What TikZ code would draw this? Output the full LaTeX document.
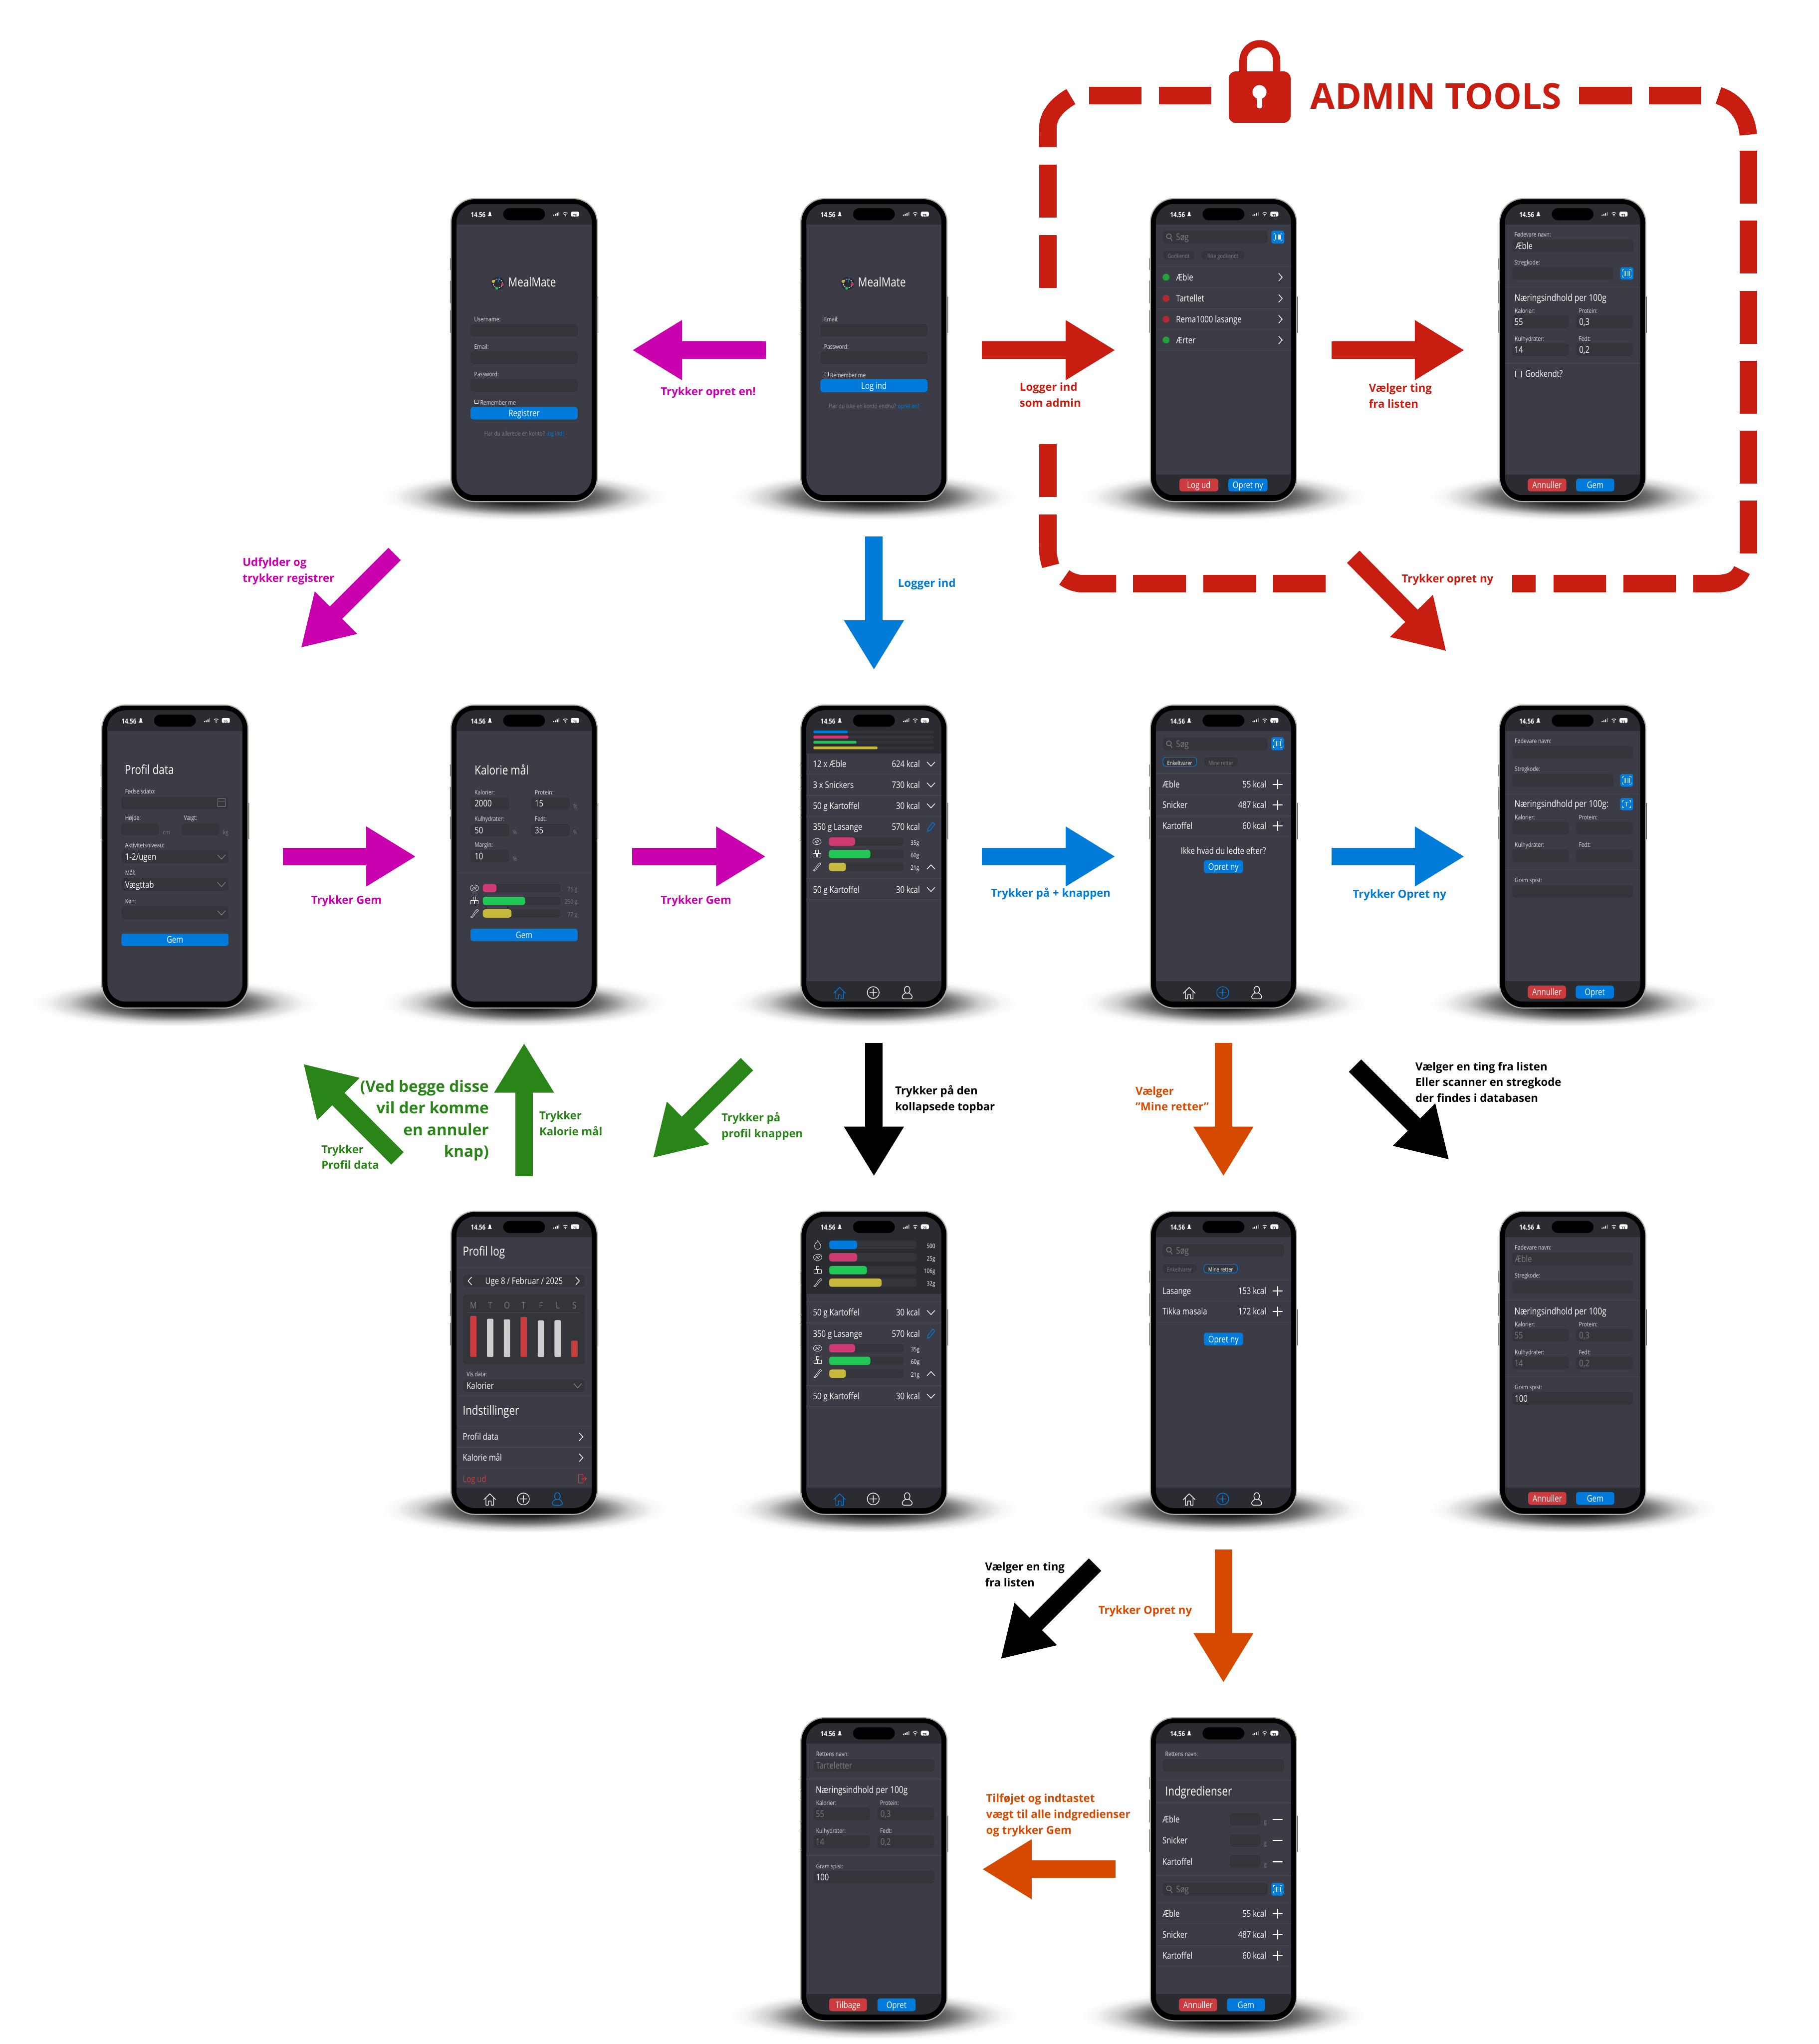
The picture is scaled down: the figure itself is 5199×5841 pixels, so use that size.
\documentclass[tikz,border=0pt]{standalone}
\usepackage{fontspec}
\setmainfont{Open Sans}
\newfontfamily\phonefont[FakeStretch=0.82]{Open Sans}
\usetikzlibrary{arrows.meta}

\definecolor{screenbg}{HTML}{3B3C46}
\definecolor{darkbar}{HTML}{2B2C32}
\definecolor{fieldbg}{HTML}{34353B}
\definecolor{divline}{HTML}{47484F}
\definecolor{btnblue}{HTML}{007BDB}
\definecolor{btnred}{HTML}{CC3B3E}
\definecolor{labgray}{HTML}{DEDEE0}
\definecolor{dimtxt}{HTML}{7C7D83}
\definecolor{metal}{HTML}{B4AFA3}
\definecolor{barpink}{HTML}{CF3A72}
\definecolor{bargreen}{HTML}{22C855}
\definecolor{baryellow}{HTML}{C6B93E}
\definecolor{dotgreen}{HTML}{23A23A}
\definecolor{dotred}{HTML}{B22A30}
\definecolor{barwhite}{HTML}{CFCFCF}
\definecolor{flowmag}{HTML}{C800AD}
\definecolor{flowblue}{HTML}{007BD8}
\definecolor{flowred}{HTML}{C81E12}
\definecolor{flowgreen}{HTML}{2A8519}
\definecolor{floworange}{HTML}{D64A00}

\pgfdeclareradialshading{phoneshadow}{\pgfpoint{0bp}{0bp}}{%
  color(0bp)=(black!92); color(7bp)=(black!88); color(13.5bp)=(black!55);
  color(18.5bp)=(black!18); color(22.5bp)=(black!3); color(25bp)=(white); color(50bp)=(white)}

\newcounter{txtno}
\newcommand{\ptx}[4][]{\stepcounter{txtno}\node[ptxt,#1] (txt\arabic{txtno}) at (#2,#3) {#4};}
\newcommand{\inp}[4]{\fill[fieldbg,rounded corners=.08cm] (#1,#2) rectangle (#3,#4);}
\newcommand{\divi}[1]{\draw[divline,line width=.5pt] (-193,#1) -- (193,#1);}
\newcommand{\btn}[6]{\fill[#1,rounded corners=.07cm] (#2,#3) rectangle (#4,#5);
  \ptx[ctr]{{(#2+#4)/2}}{{(#3+#5)/2}}{#6}}
\newcommand{\chipon}[5]{\draw[btnblue,fill=fieldbg,line width=.5pt,rounded corners=.08cm] (#1,#2) rectangle (#3,#4);
  \ptx[ctr,mini]{{(#1+#3)/2}}{{(#2+#4)/2}}{#5}}
\newcommand{\chipoff}[5]{\fill[fieldbg,rounded corners=.08cm] (#1,#2) rectangle (#3,#4);
  \ptx[ctr,mini,dim]{{(#1+#3)/2}}{{(#2+#4)/2}}{#5}}
\newcommand{\chevd}[3][white]{\draw[ic,draw=#1,shift={(#2,#3)}] (-11,-6) -- (0,6) -- (11,-6);}
\newcommand{\chevu}[2]{\draw[ic,shift={(#1,#2)}] (-11,6) -- (0,-6) -- (11,6);}
\newcommand{\chevr}[2]{\draw[ic,shift={(#1,#2)}] (-5,-11) -- (5,0) -- (-5,11);}
\newcommand{\chevl}[2]{\draw[ic,shift={(#1,#2)}] (5,-11) -- (-5,0) -- (5,11);}
\newcommand{\plusic}[2]{\draw[ic,line width=.85pt,shift={(#1,#2)}] (-13,0) -- (13,0) (0,-13) -- (0,13);}
\newcommand{\minusic}[2]{\draw[ic,line width=.85pt,shift={(#1,#2)}] (-13,0) -- (13,0);}
\newcommand{\lens}[2]{\draw[ic,draw=dimtxt,shift={(#1,#2)}] (0,-2) circle (.07cm) (5,4) -- (9,11);}
\newcommand{\pencil}[2]{\draw[ic,draw=btnblue,shift={(#1,#2)}] (-10,13) -- (-9,5) -- (5,-13) -- (11,-8) -- (-3,10) -- cycle;}
\newcommand{\scanbtn}[4]{\fill[btnblue,rounded corners=.06cm] (#1,#2) rectangle (#3,#4);
  \begin{scope}[shift={({(#1+#3)/2},{(#2+#4)/2})}]
    \draw[white,line width=.3pt] (-12,-6) -- (-12,-11) -- (-8,-11) (8,-11) -- (12,-11) -- (12,-6) (12,6) -- (12,11) -- (8,11) (-8,11) -- (-12,11) -- (-12,6);
    \foreach \bx in {-7,-3,1,4,8}{\draw[white,line width=.4pt] (\bx,-7) -- (\bx,7);}
  \end{scope}}
\newcommand{\ocrbtn}[4]{\fill[btnblue,rounded corners=.06cm] (#1,#2) rectangle (#3,#4);
  \begin{scope}[shift={({(#1+#3)/2},{(#2+#4)/2})}]
    \draw[white,line width=.4pt] (-12,-5) -- (-12,-10) -- (-8,-10) (8,-10) -- (12,-10) -- (12,-5) (12,5) -- (12,10) -- (8,10) (-8,10) -- (-12,10) -- (-12,5);
    \draw[white,line width=.5pt] (-5,-6) -- (5,-6) (0,-6) -- (0,7);
  \end{scope}}
\newcommand{\mbar}[5]{\fill[fieldbg,rounded corners=.07cm] (#2,{#1-12}) rectangle (#3,{#1+12});
  \fill[#5,rounded corners=.07cm] (#2,{#1-12}) rectangle (#4,{#1+12});}
\newcommand{\icmeat}[2]{\begin{scope}[shift={(#1,#2)}]\draw[ic,line width=.3pt] (0,0) ellipse (.12cm and .09cm) (-6,4) -- (-2,-4) (-2,4) -- (2,-4) (2,4) -- (6,-4);\end{scope}}
\newcommand{\icsugar}[2]{\begin{scope}[shift={(#1,#2)}]\draw[ic,line width=.3pt] (-4,-12) rectangle (4,-3) (-11,-2) rectangle (-1,8) (1,-2) rectangle (11,8);\end{scope}}
\newcommand{\icbacon}[2]{\begin{scope}[shift={(#1,#2)}]\draw[ic,line width=.3pt] (-11,10) .. controls (-4,8) and (0,-8) .. (9,-12) (-7,12) .. controls (0,8) and (3,-4) .. (12,-8) (-11,10) -- (-7,12) (9,-12) -- (12,-8);\end{scope}}
\newcommand{\icflame}[2]{\draw[ic,line width=.3pt,shift={(#1,#2)}] (0,-13) .. controls (2,-6) and (9,-4) .. (9,4) .. controls (9,10) and (4,13) .. (0,13) .. controls (-5,13) and (-9,9) .. (-9,3) .. controls (-9,-1) and (-6,-3) .. (-5,-6) .. controls (-3,-4) and (-2,-8) .. (0,-13) -- cycle;}
\newcommand{\listrow}[3]{\ptx{-175}{#1}{#2}\ptx[rt]{123}{#1}{#3}\plusic{155}{#1}}
\newcommand{\logrow}[3]{\ptx{-175}{#1}{#2}\ptx[rt]{132}{#1}{#3}\chevd{163}{#1}}
\newcommand{\selectbox}[3]{\inp{-153}{#1}{153}{#2}\ptx{-143}{{(#1+#2)/2}}{#3}\chevd[dimtxt]{133}{{(#1+#2)/2}}}
\newcommand{\nutri}[6]{\ptx[sub]{-167}{#1}{Næringsindhold per 100g#6}
  \ptx[lab]{-166}{#1+35}{Kalorier:}\ptx[lab]{17}{#1+35}{Protein:}
  \inp{-173}{#1+51}{-11}{#1+88}\inp{10}{#1+51}{172}{#1+88}
  \ptx[lab]{-166}{#1+115}{Kulhydrater:}\ptx[lab]{17}{#1+115}{Fedt:}
  \inp{-173}{#1+131}{-11}{#1+168}\inp{10}{#1+131}{172}{#1+168}
  \ptx[nutval]{-167}{#1+70}{#2}\ptx[nutval]{18}{#1+70}{#3}
  \ptx[nutval]{-167}{#1+150}{#4}\ptx[nutval]{18}{#1+150}{#5}}
\newcommand{\navbar}[3]{\fill[darkbar] (-193,795) rectangle (193,854);
  \begin{scope}[shift={(-98,828)}]\draw[ic,draw=#1] (-17,2) -- (0,-15) -- (17,2) (-11,-3) -- (-11,18) -- (-4,18) -- (-4,6) -- (4,6) -- (4,18) -- (11,18) -- (11,-3);\end{scope}
  \begin{scope}[shift={(-2,828)}]\draw[ic,draw=#2] (0,0) circle (.17cm) (-10,0) -- (10,0) (0,-10) -- (0,10);\end{scope}
  \begin{scope}[shift={(95,828)}]\draw[ic,draw=#3] (0,-8) ellipse (.08cm and .1cm) (-5,1) .. controls (-17,8) and (-17,18) .. (-8,18) -- (8,18) .. controls (17,18) and (17,8) .. (5,1);\end{scope}}
\newcommand{\mealogo}[2]{\begin{scope}[shift={(#1,#2)}]
    \fill[darkbar] (0,0) circle (.19cm);
    \draw[white,line width=.4pt,dash pattern=on 1.2pt off .8pt] (0,0) circle (.13cm);
    \fill[baryellow] (-13,-6) circle (.045cm); \fill[barpink] (13,3) circle (.04cm); \fill[bargreen] (-3,14) circle (.04cm);
    \draw[btnblue,line width=.6pt] (1,-3) -- (4,-17);
  \end{scope}}
\newcommand{\phone}[4]{\begin{scope}[shift={(#2,#3)},yscale=.992]
    \begin{scope}\clip (-420,785) rectangle (420,923);
      \shade[shading=phoneshadow] (0,858) ellipse (4.1cm and .72cm);\end{scope}
    \fill[black!70] (-212,171) rectangle (-205,205) (-212,236) rectangle (-205,301) (-212,321) rectangle (-205,386) (205,282) rectangle (212,386);
    \node[phonebody] (#1) at (0,436) {};
    \begin{scope}\clip[rounded corners=.52cm] (-193,15) rectangle (193,854);
      \fill[screenbg] (-193,15) rectangle (193,854);
      \fill[darkbar] (-193,15) rectangle (193,74);
      #4
    \end{scope}
    \fill[black,rounded corners=.18cm] (-60,27) rectangle (60,62);
    \ptx[stat]{-153}{44}{14.56}
    \fill[white] (-104,50) -- (-101,46) -- (-101,41) .. controls (-100,36) and (-96,36) .. (-95,41) -- (-95,46) -- (-92,50) -- cycle;
    \fill[white] (83,49) rectangle (86,46) (88,49) rectangle (91,44) (93,49) rectangle (96,41);
    \fill[dimtxt] (98,49) rectangle (101,38);
    \draw[white,line width=.5pt] (124,42) arc[start angle=45,end angle=135,radius=.085cm] (121,46) arc[start angle=45,end angle=135,radius=.045cm];
    \fill[white] (118,49) circle (.018cm);
    \fill[white,rounded corners=.04cm] (134,37) rectangle (157,51);
    \ptx[ctr,stat,text=darkbar]{145}{44}{\fontsize{3.4}{4}\selectfont 73}
  \end{scope}}

\begin{document}
\begin{tikzpicture}[
  x=0.1mm, y=-0.1mm,
  phonebody/.style={rectangle, minimum width=4.18cm, minimum height=8.66cm, inner sep=0pt, outer sep=0pt,
                    rounded corners=.68cm, fill=black, draw=metal, line width=.9pt},
  ptxt/.style={anchor=mid west, inner sep=0pt, text=white, font=\phonefont\fontsize{7.4}{9}\selectfont},
  lab/.style={text=labgray, font=\phonefont\fontsize{5.1}{6}\selectfont},
  head/.style={font=\phonefont\fontsize{10.2}{12}\selectfont},
  sub/.style={font=\phonefont\fontsize{7.7}{9}\selectfont},
  mini/.style={font=\phonefont\fontsize{4.7}{6}\selectfont},
  small/.style={font=\phonefont\fontsize{5}{6}\selectfont},
  stat/.style={font=\phonefont\bfseries\fontsize{5.7}{6}\selectfont},
  ctr/.style={anchor=mid},
  rt/.style={anchor=mid east},
  dim/.style={text=dimtxt},
  nutval/.style={},
  ic/.style={draw=white, line width=.55pt, line join=round, line cap=round},
  flow/.style={line width=.5cm, -{Triangle[length=1.42cm,width=1.61cm]}},
  note/.style={anchor=north west, inner sep=0pt, align=left, font=\bfseries\fontsize{9}{12.9}\selectfont},
  adminline/.style={flowred, line width=.5cm}
]
\useasboundingbox (0,0) rectangle (5199,5841);

% first row
\phone{register}{1498}{568}{
  \mealogo{-75}{244}\ptx[head]{-46}{244}{MealMate}
  \ptx[lab]{-143}{344}{Username:}\inp{-153}{361}{153}{397}
  \ptx[lab]{-143}{424}{Email:}\inp{-153}{440}{153}{476}
  \ptx[lab]{-143}{503}{Password:}\inp{-153}{520}{153}{556}
  \draw[white,line width=.3pt] (-141,579) rectangle (-131,590);\ptx[lab]{-126}{585}{Remember me}
  \btn{btnblue}{-153}{600}{153}{636}{Registrer}
  \ptx[ctr,small,dim]{0}{674}{Har du allerede en konto? \textcolor{btnblue}{log ind!}}
}
\phone{login}{2498}{568}{
  \mealogo{-75}{244}\ptx[head]{-46}{244}{MealMate}
  \ptx[lab]{-143}{344}{Email:}\inp{-153}{361}{153}{397}
  \ptx[lab]{-143}{424}{Password:}\inp{-153}{440}{153}{476}
  \draw[white,line width=.3pt] (-141,499) rectangle (-131,510);\ptx[lab]{-126}{505}{Remember me}
  \btn{btnblue}{-153}{520}{153}{557}{Log ind}
  \ptx[ctr,small,dim]{0}{595}{Har du ikke en konto endnu? \textcolor{btnblue}{opret en!}}
}
\phone{adminlist}{3497}{568}{
  \inp{-173}{92}{126}{129}\lens{-156}{110}\ptx[dim]{-136}{110}{Søg}\scanbtn{137}{92}{174}{129}
  \chipoff{-173}{150}{-83}{175}{Godkendt}\chipoff{-63}{150}{60}{175}{Ikke godkendt}
  \divi{196}\divi{256}\divi{317}\divi{377}\divi{437}
  \fill[dotgreen] (-164,226) circle (.1cm);\ptx{-136}{226}{Æble}\chevr{163}{226}
  \fill[dotred] (-164,287) circle (.1cm);\ptx{-136}{287}{Tartellet}\chevr{163}{287}
  \fill[dotred] (-164,347) circle (.1cm);\ptx{-136}{347}{Rema1000 lasange}\chevr{163}{347}
  \fill[dotgreen] (-164,407) circle (.1cm);\ptx{-136}{407}{Ærter}\chevr{163}{407}
  \fill[darkbar] (-193,795) rectangle (193,854);
  \btn{btnred}{-126}{806}{-15}{843}{Log ud}\btn{btnblue}{14}{806}{126}{843}{Opret ny}
}
\phone{adminedit}{4495}{568}{
  \ptx[lab]{-167}{100}{Fødevare navn:}\inp{-173}{117}{174}{153}\ptx{-164}{136}{Æble}
  \ptx[lab]{-167}{181}{Stregkode:}\inp{-173}{197}{116}{233}\scanbtn{136}{197}{174}{233}
  \divi{255}
  \nutri{285}{55}{0,3}{14}{0,2}{}
  \divi{474}
  \draw[white,line width=.4pt] (-164,496) rectangle (-146,513);\ptx{-136}{504}{Godkendt?}
  \fill[darkbar] (-193,795) rectangle (193,854);
  \btn{btnred}{-128}{806}{-18}{843}{Annuller}\btn{btnblue}{10}{806}{119}{843}{Gem}
}

% second row
\phone{profiledata}{500}{2015}{
  \ptx[head]{-144}{189}{Profil data}
  \ptx[lab]{-143}{246}{Fødselsdato:}\inp{-153}{264}{153}{300}
  \draw[dimtxt,line width=.3pt] (122,270) rectangle (144,292) (122,276) -- (144,276);
  \ptx[lab]{-143}{322}{Højde:}\ptx[lab]{25}{322}{Vægt:}
  \inp{-154}{340}{-46}{375}\inp{19}{340}{127}{375}
  \ptx[small,dim]{-35}{363}{cm}\ptx[small,dim]{137}{363}{kg}
  \ptx[lab]{-143}{401}{Aktivitetsniveau:}\selectbox{419}{456}{1-2/ugen}
  \ptx[lab]{-143}{480}{Mål:}\selectbox{499}{535}{Vægttab}
  \ptx[lab]{-143}{562}{Køn:}\selectbox{580}{617}{}
  \btn{btnblue}{-153}{658}{153}{694}{Gem}
}
\phone{kaloriemaal}{1498}{2015}{
  \ptx[head]{-142}{191}{Kalorie mål}
  \ptx[lab]{-142}{248}{Kalorier:}\ptx[lab]{30}{248}{Protein:}
  \inp{-153}{266}{-43}{302}\inp{20}{266}{130}{302}
  \ptx{-142}{283}{2000}\ptx{30}{283}{15}\ptx[small,dim]{140}{289}{\%}
  \ptx[lab]{-142}{324}{Kulhydrater:}\ptx[lab]{30}{324}{Fedt:}
  \inp{-153}{342}{-43}{378}\inp{20}{342}{130}{378}
  \ptx{-142}{360}{50}\ptx{30}{360}{35}\ptx[small,dim]{-33}{364}{\%}\ptx[small,dim]{140}{364}{\%}
  \ptx[lab]{-142}{400}{Margin:}\inp{-153}{417}{-43}{453}\ptx{-142}{435}{10}\ptx[small,dim]{-33}{440}{\%}
  \divi{484}
  \icmeat{-142}{527}\mbar{527}{-118}{104}{-79}{barpink}\ptx[rt,small,dim]{153}{527}{75 g}
  \icsugar{-142}{564}\mbar{564}{-118}{104}{3}{bargreen}\ptx[rt,small,dim]{153}{564}{250 g}
  \icbacon{-142}{600}\mbar{600}{-118}{104}{-36}{baryellow}\ptx[rt,small,dim]{153}{600}{77 g}
  \btn{btnblue}{-153}{644}{153}{680}{Gem}
}
\phone{home}{2498}{2015}{
  \fill[darkbar] (-193,74) rectangle (193,139);
  \foreach \by/\bend/\bcol in {77/-75/btnblue,92/-73/barpink,107/-50/bargreen,123/10/baryellow}{
    \fill[fieldbg,rounded corners=.03cm] (-173,\by-4) rectangle (171,\by+4);
    \fill[\bcol,rounded corners=.03cm] (-173,\by-4) rectangle (\bend,\by+4);}
  \logrow{170}{12 x Æble}{624 kcal}\divi{199}
  \logrow{230}{3 x Snickers}{730 kcal}\divi{260}
  \logrow{290}{50 g Kartoffel}{30 kcal}\divi{320}
  \ptx{-175}{351}{350 g Lasange}\ptx[rt]{132}{351}{570 kcal}\pencil{163}{351}
  \icmeat{-163}{393}\mbar{393}{-129}{85}{-54}{barpink}\ptx[ctr,small]{117}{393}{35g}
  \icsugar{-163}{429}\mbar{429}{-129}{85}{-10}{bargreen}\ptx[ctr,small]{117}{429}{60g}
  \icbacon{-163}{466}\mbar{466}{-129}{85}{-80}{baryellow}\ptx[ctr,small]{117}{466}{21g}\chevu{163}{466}
  \divi{500}\logrow{531}{50 g Kartoffel}{30 kcal}\divi{560}
  \navbar{btnblue}{white}{white}
}
\phone{addfood}{3497}{2015}{
  \inp{-173}{94}{126}{130}\lens{-156}{112}\ptx[dim]{-136}{112}{Søg}\scanbtn{137}{92}{172}{130}
  \chipon{-173}{150}{-77}{176}{Enkeltvarer}\chipoff{-55}{150}{41}{176}{Mine retter}
  \divi{197}\listrow{228}{Æble}{55 kcal}\divi{258}
  \listrow{288}{Snicker}{487 kcal}\divi{319}
  \listrow{348}{Kartoffel}{60 kcal}\divi{379}
  \ptx[ctr]{0}{419}{Ikke hvad du ledte efter?}
  \btn{btnblue}{-56}{447}{56}{484}{Opret ny}
  \navbar{white}{btnblue}{white}
}
\phone{newfood}{4495}{2015}{
  \ptx[lab]{-166}{100}{Fødevare navn:}\inp{-173}{118}{173}{154}
  \ptx[lab]{-166}{181}{Stregkode:}\inp{-173}{198}{117}{235}\scanbtn{136}{198}{173}{235}
  \divi{256}
  \nutri{285}{}{}{}{}{:}\ocrbtn{136}{267}{173}{303}
  \divi{475}
  \ptx[lab]{-166}{501}{Gram spist:}\inp{-173}{519}{173}{555}
  \fill[darkbar] (-193,795) rectangle (193,854);
  \btn{btnred}{-128}{808}{-19}{845}{Annuller}\btn{btnblue}{9}{808}{118}{845}{Opret}
}

% third row
\phone{profilelog}{1498}{3462}{
  \ptx[head]{-176}{118}{Profil log}\divi{161}
  \inp{-174}{182}{173}{218}\chevl{-155}{200}\chevr{153}{200}\ptx[ctr]{0}{200}{Uge 8 / Februar / 2025}
  \inp{-174}{239}{173}{440}
  \foreach \cx/\cday in {-145/M,-97/T,-49/O,-1/T,48/F,96/L,144/S}{\ptx[ctr,dim]{\cx}{271}{\cday}}
  \draw[divline,line width=.3pt] (-160,291) -- (160,291);
  \foreach \cx/\ctop/\ccol in {-145/301/btnred,-97/309/barwhite,-49/311/barwhite,-1/304/btnred,48/314/barwhite,96/313/barwhite,144/372/btnred}{
    \fill[\ccol,rounded corners=.03cm] (\cx-9,\ctop) rectangle (\cx+9,419);}
  \ptx[lab]{-165}{466}{Vis data:}\inp{-174}{484}{173}{520}\ptx{-165}{502}{Kalorier}\chevd[dimtxt]{153}{502}
  \divi{532}\ptx[head]{-176}{576}{Indstillinger}\divi{618}
  \ptx{-176}{649}{Profil data}\chevr{163}{649}\divi{679}
  \ptx{-176}{709}{Kalorie mål}\chevr{163}{709}\divi{740}
  \ptx[text=btnred]{-176}{770}{Log ud}
  \draw[btnred,line width=.5pt] (155,758) rectangle (168,782) (163,770) -- (178,770) (173,765) -- (178,770) -- (173,775);
  \navbar{white}{white}{btnblue}
}
\phone{homeopen}{2498}{3462}{
  \fill[darkbar] (-193,74) rectangle (193,238);
  \icflame{-161}{96}\mbar{96}{-128}{122}{-48}{btnblue}\ptx[rt,small]{176}{96}{500}
  \icmeat{-161}{132}\mbar{132}{-128}{122}{-48}{barpink}\ptx[rt,small]{176}{132}{25g}
  \icsugar{-161}{169}\mbar{169}{-128}{122}{-20}{bargreen}\ptx[rt,small]{176}{169}{106g}
  \icbacon{-161}{205}\mbar{205}{-128}{122}{22}{baryellow}\ptx[rt,small]{176}{205}{32g}
  \divi{260}\logrow{291}{50 g Kartoffel}{30 kcal}\divi{321}
  \ptx{-175}{352}{350 g Lasange}\ptx[rt]{132}{352}{570 kcal}\pencil{163}{352}
  \icmeat{-161}{394}\mbar{394}{-128}{85}{-54}{barpink}\ptx[ctr,small]{118}{394}{35g}
  \icsugar{-161}{430}\mbar{430}{-128}{85}{-10}{bargreen}\ptx[ctr,small]{118}{430}{60g}
  \icbacon{-161}{467}\mbar{467}{-128}{85}{-80}{baryellow}\ptx[ctr,small]{118}{467}{21g}\chevu{163}{467}
  \divi{502}\logrow{532}{50 g Kartoffel}{30 kcal}\divi{562}
  \navbar{btnblue}{white}{white}
}
\phone{mydishes}{3497}{3462}{
  \inp{-174}{94}{173}{130}\lens{-156}{112}\ptx[dim]{-136}{112}{Søg}
  \chipoff{-174}{152}{-77}{177}{Enkeltvarer}\chipon{-56}{152}{40}{177}{Mine retter}
  \divi{198}\listrow{229}{Lasange}{153 kcal}\divi{258}
  \listrow{288}{Tikka masala}{172 kcal}\divi{319}
  \btn{btnblue}{-56}{349}{56}{386}{Opret ny}
  \navbar{white}{btnblue}{white}
}
\phone{editfood}{4495}{3462}{
  \ptx[lab]{-166}{101}{Fødevare navn:}\inp{-173}{118}{173}{155}\ptx[dim]{-166}{137}{Æble}
  \ptx[lab]{-166}{181}{Stregkode:}\inp{-173}{199}{173}{236}
  \divi{256}
  \begin{scope}[nutval/.style={dim}]\nutri{287}{55}{0,3}{14}{0,2}{}\end{scope}
  \divi{477}
  \ptx[lab]{-166}{503}{Gram spist:}\inp{-173}{520}{173}{557}\ptx{-166}{539}{100}
  \fill[darkbar] (-193,795) rectangle (193,854);
  \btn{btnred}{-127}{808}{-18}{845}{Annuller}\btn{btnblue}{10}{808}{119}{845}{Gem}
}

% fourth row
\phone{dishview}{2498}{4909}{
  \ptx[lab]{-166}{101}{Rettens navn:}\inp{-173}{119}{173}{155}\ptx[dim]{-166}{137}{Tarteletter}
  \divi{176}
  \begin{scope}[nutval/.style={dim}]\nutri{207}{55}{0,3}{14}{0,2}{}\end{scope}
  \divi{396}
  \ptx[lab]{-166}{424}{Gram spist:}\inp{-173}{440}{173}{477}\ptx{-166}{459}{100}
  \fill[darkbar] (-193,795) rectangle (193,854);
  \btn{btnred}{-128}{808}{-20}{845}{Tilbage}\btn{btnblue}{10}{808}{119}{845}{Opret}
}
\phone{dishcreate}{3497}{4909}{
  \ptx[lab]{-167}{101}{Rettens navn:}\inp{-173}{119}{173}{155}
  \divi{180}\ptx[head]{-167}{215}{Indgredienser}\divi{245}
  \ptx{-175}{292}{Æble}\inp{19}{274}{105}{310}\ptx[small,dim]{115}{297}{g}\minusic{155}{292}
  \ptx{-175}{353}{Snicker}\inp{19}{335}{105}{371}\ptx[small,dim]{115}{358}{g}\minusic{155}{353}
  \ptx{-175}{414}{Kartoffel}\inp{19}{395}{105}{432}\ptx[small,dim]{115}{419}{g}\minusic{155}{414}
  \divi{455}
  \inp{-173}{475}{126}{512}\lens{-156}{493}\ptx[dim]{-136}{493}{Søg}\scanbtn{137}{475}{172}{512}
  \divi{533}\listrow{564}{Æble}{55 kcal}\divi{594}
  \listrow{624}{Snicker}{487 kcal}\divi{655}
  \listrow{685}{Kartoffel}{60 kcal}\divi{716}
  \fill[darkbar] (-193,795) rectangle (193,854);
  \btn{btnred}{-127}{808}{-18}{845}{Annuller}\btn{btnblue}{10}{808}{119}{845}{Gem}
}

% admin frame
\foreach \dx in {3113,3313,4514,4713}{\draw[adminline] (\dx,273) -- (\dx+150,273);}
\foreach \dy in {431,631,831,1031,1231,1431}{\draw[adminline] (4997,\dy) -- (4997,\dy+151);}
\foreach \dy in {471,672,1269}{\draw[adminline] (2995,\dy) -- (2995,\dy+151);}
\foreach \dx/\dl in {3239/150,3440/150,3639/150,4322/67,4440/150,4640/150}{\draw[adminline] (\dx,1668) -- (\dx+\dl,1668);}
\draw[adminline] (2995,420) -- (2995,367) .. controls (2995,330) and (3020,300) .. (3061,276);
\draw[adminline] (4912,273) .. controls (4965,290) and (4993,335) .. (4997,385);
\draw[adminline] (2995,1470) -- (2995,1570) .. controls (2995,1590) and (3000,1605) .. (3003,1617);
\draw[adminline] (3042,1650) .. controls (3055,1660) and (3075,1668) .. (3095,1668) -- (3190,1668);
\draw[adminline] (4840,1668) -- (4900,1668) .. controls (4940,1668) and (4965,1660) .. (4979,1629);
\fill[flowred,rounded corners=.2cm] (3512,204) rectangle (3689,351);
\draw[flowred,line width=.21cm] (3553,215) -- (3553,173) arc[start angle=180,end angle=0,radius=.48cm] -- (3649,215);
\fill[white] (3600,263) circle (.2cm);
\draw[white,line width=.16cm,line cap=round] (3600,265) -- (3600,302);
\node[anchor=base west, inner sep=0pt, text=flowred, font=\bfseries\fontsize{29}{30}\selectfont] (admintitle) at (3745,311) {ADMIN TOOLS};

% free arrow ends
\coordinate (regtail) at (1128,1583);   \coordinate (regtip) at (860,1851);
\coordinate (newtail) at (3868,1591);   \coordinate (newtip) at (4134,1861);
\coordinate (logtail) at (1136,3310);   \coordinate (logtip) at (867,3040);
\coordinate (pfltail) at (2135,3041);   \coordinate (pfltip) at (1866,3309);
\coordinate (scantail) at (3873,3045);  \coordinate (scantip) at (4142,3314);
\coordinate (picktail) at (3130,4471);  \coordinate (picktip) at (2860,4741);

\draw[flow,flowmag,shorten <=1cm,shorten >=1cm] (login) -- (register);
\draw[flow,flowred,shorten <=1cm,shorten >=1cm] (login) -- (adminlist);
\draw[flow,flowred,shorten <=1cm,shorten >=1cm] (adminlist) -- (adminedit);
\draw[flow,flowmag] (regtail) -- (regtip);
\draw[flow,flowblue,shorten <=1cm,shorten >=1cm] (login) -- (home);
\draw[flow,flowred] (newtail) -- (newtip);
\draw[flow,flowmag,shorten <=1cm,shorten >=1cm] (profiledata) -- (kaloriemaal);
\draw[flow,flowmag,shorten <=1cm,shorten >=1cm] (kaloriemaal) -- (home);
\draw[flow,flowblue,shorten <=1cm,shorten >=1cm] (home) -- (addfood);
\draw[flow,flowblue,shorten <=1cm,shorten >=1cm] (addfood) -- (newfood);
\draw[flow,flowgreen] (logtail) -- (logtip);
\draw[flow,flowgreen,shorten <=1cm,shorten >=1cm] (profilelog) -- (kaloriemaal);
\draw[flow,flowgreen] (pfltail) -- (pfltip);
\draw[flow,black,shorten <=1cm,shorten >=1cm] (home) -- (homeopen);
\draw[flow,floworange,shorten <=1cm,shorten >=1cm] (addfood) -- (mydishes);
\draw[flow,black] (scantail) -- (scantip);
\draw[flow,black] (picktail) -- (picktip);
\draw[flow,floworange,shorten <=1cm,shorten >=1cm] (mydishes) -- (dishcreate);
\draw[flow,floworange,shorten <=1cm,shorten >=1cm] (dishcreate) -- (dishview);

% arrow texts
\node[note,text=flowmag] (regtxt) at (1888,1105) {Trykker opret en!};
\node[note,text=flowmag] (filltxt) at (693,1593) {Udfylder og\\trykker registrer};
\node[note,text=flowblue] (logintxt) at (2566,1653) {Logger ind};
\node[note,text=flowred] (admintxt) at (2914,1093) {Logger ind\\som admin};
\node[note,text=flowred] (picktxt) at (3912,1096) {Vælger ting\\fra listen};
\node[note,text=flowred] (newtxt) at (4006,1640) {Trykker opret ny};
\node[note,text=flowmag] (gemtxt) at (889,2558) {Trykker Gem};
\node[note,text=flowmag] (gemtwotxt) at (1888,2558) {Trykker Gem};
\node[note,text=flowblue] (plustxt) at (2832,2536) {Trykker på + knappen};
\node[note,text=flowblue] (oprettxt) at (3866,2541) {Trykker Opret ny};
\node[note,anchor=north east,align=right,text=flowgreen,font=\bfseries\fontsize{12.8}{17.6}\selectfont] (bothtxt) at (1398,3086) {(Ved begge disse\\vil der komme\\en annuler\\knap)};
\node[note,text=flowgreen] (pdatatxt) at (918,3271) {Trykker\\Profil data};
\node[note,text=flowgreen] (kmaaltxt) at (1541,3175) {Trykker\\Kalorie mål};
\node[note,text=flowgreen] (pfltxt) at (2062,3178) {Trykker på\\profil knappen};
\node[note] (toptxt) at (2558,3101) {Trykker på den\\kollapsede topbar};
\node[note,text=floworange] (minetxt) at (3245,3104) {Vælger\\"Mine retter"};
\node[note] (scantxt) at (4045,3034) {Vælger en ting fra listen\\Eller scanner en stregkode\\der findes i databasen};
\node[note] (thingtxt) at (2815,4464) {Vælger en ting\\fra listen};
\node[note,text=floworange] (dishtxt) at (3139,4587) {Trykker Opret ny};
\node[note,text=floworange] (addtxt) at (2818,5125) {Tilføjet og indtastet\\vægt til alle indgredienser\\og trykker Gem};
\end{tikzpicture}
\end{document}
